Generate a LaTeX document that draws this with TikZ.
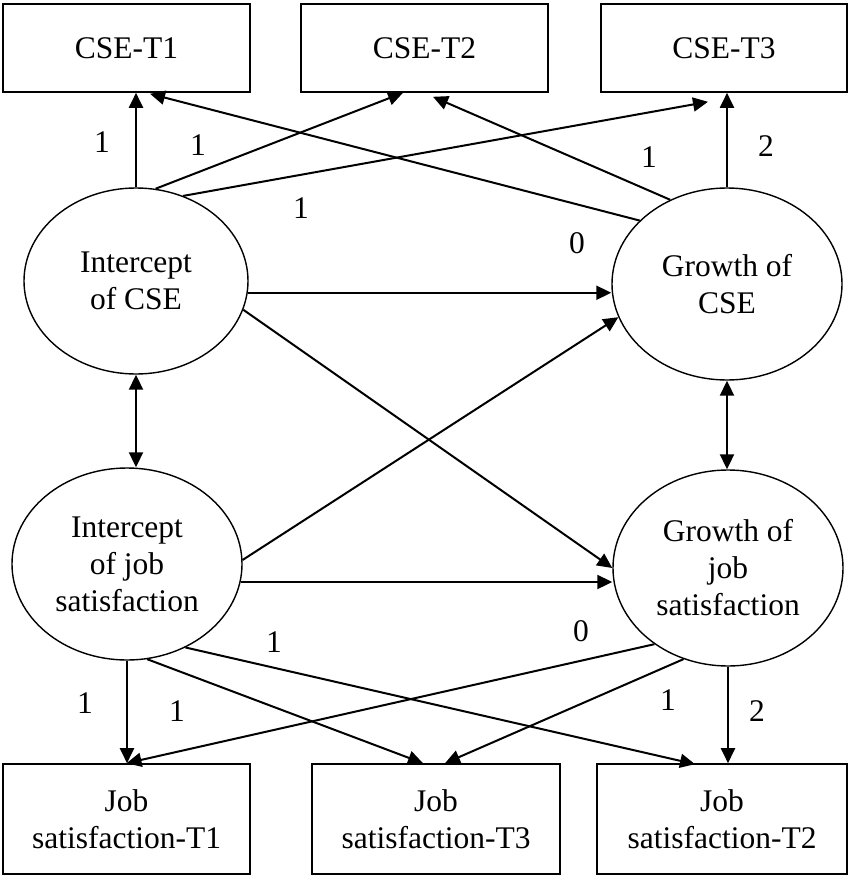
\documentclass[tikz,border=0pt]{standalone}
\usepackage{fontspec}
\setmainfont{Liberation Serif}
\usetikzlibrary{shapes.geometric,arrows.meta}

\begin{document}
\begin{tikzpicture}[x=1pt,y=-1pt,
  font=\fontsize{31.5}{37}\selectfont,
  obs/.style={draw,line width=1.6pt,rectangle,inner sep=0pt,minimum width=247pt,align=center},
  latent/.style={draw,line width=1.4pt,ellipse,inner sep=0pt,align=center},
  path/.style={line width=2pt,-{Triangle[length=15pt,width=14pt]}},
  cov/.style={line width=2pt,{Triangle[length=15pt,width=14pt]}-{Triangle[length=15pt,width=14pt]}},
  lbl/.style={inner sep=0pt}]
\useasboundingbox (0,0) rectangle (850,875);

% observed CSE indicators
\node[obs,minimum height=88pt] (t1) at (126.5,48) {CSE-T1};
\node[obs,minimum height=88pt] (t2) at (424.5,48) {CSE-T2};
\node[obs,minimum height=88pt,minimum width=246pt] (t3) at (724,48) {CSE-T3};

% observed job satisfaction indicators
\node[obs,minimum height=110pt] (j1) at (126.5,819) {Job\\satisfaction-T1};
\node[obs,minimum height=110pt,minimum width=248pt] (j3) at (436,819) {Job\\satisfaction-T3};
\node[obs,minimum height=110pt,minimum width=250pt] (j2) at (722,819) {Job\\satisfaction-T2};

% latent growth factors
\node[latent,minimum width=224pt,minimum height=186pt] (ic) at (136,281) {Intercept\\of CSE};
\node[latent,minimum width=230pt,minimum height=192pt] (gc) at (727,284) {Growth of\\CSE};
\node[latent,minimum width=230pt,minimum height=192pt] (ij) at (127,564) {Intercept\\of job\\satisfaction};
\node[latent,minimum width=230pt,minimum height=196pt] (gj) at (728,568) {Growth of\\job\\satisfaction};

% CSE loadings
\draw[path] (ic.north) -- (ic.north |- t1.south);
\draw[path] (ic.78) -- ([xshift=-21.5pt]t2.south);
\draw[path] (ic.61) -- ([xshift=-16pt,yshift=-9pt]t3.south);
\draw[path] (gc.124) -- ([xshift=8.5pt,yshift=-4pt]t2.south);
\draw[path] (gc.144) -- ([xshift=23.5pt,yshift=-1pt]t1.south);
\draw[path] (gc.north) -- (gc.north |- t3.south);

% structural paths
\draw[path] (ic.-6) -- (ic.-6 -| gc.west);
\draw[path] (ic.-15) -- (gj.west);
\draw[path] (ij.2) -- (gc.-163);
\draw[path] (ij.-9) -- (ij.-9 -| gj.west);
\draw[cov] (ic.south) -- (ic.south |- ij.north);
\draw[cov] (gc.south) -- (gc.south |- gj.north);

% job satisfaction loadings
\draw[path] (ij.south) -- (ij.south |- j1.north);
\draw[path] (ij.-78) -- ([xshift=-13pt]j3.north);
\draw[path] (ij.-55) -- ([xshift=-27pt,yshift=-1pt]j2.north);
\draw[path] (gj.226) -- (j1.north);
\draw[path] (gj.244) -- ([xshift=9pt]j3.north);
\draw[path] (gj.south) -- (gj.south |- j2.north);

% loading values
\node[lbl] (a1) at (102,142) {1};
\node[lbl] (a2) at (198,145) {1};
\node[lbl] (a3) at (301,208) {1};
\node[lbl] (a4) at (649,157) {1};
\node[lbl] (a5) at (577,243) {0};
\node[lbl] (a6) at (766,146) {2};
\node[lbl] (b1) at (85,703) {1};
\node[lbl] (b2) at (177,711) {1};
\node[lbl] (b3) at (274,642) {1};
\node[lbl] (b4) at (581,631) {0};
\node[lbl] (b5) at (668,700) {1};
\node[lbl] (b6) at (757,711) {2};
\end{tikzpicture}
\end{document}
